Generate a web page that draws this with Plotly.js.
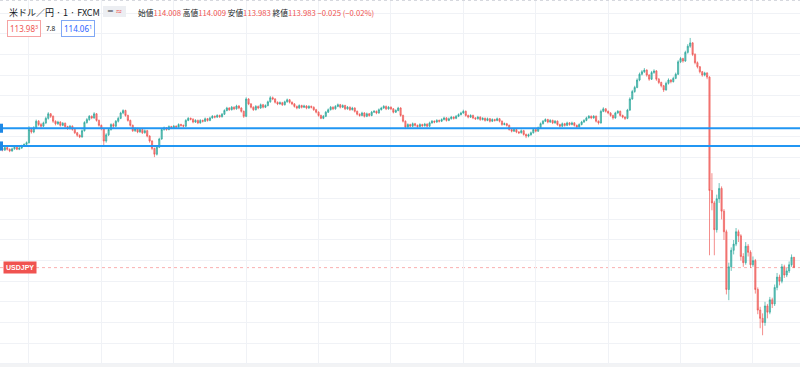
<!DOCTYPE html>
<html>
<head>
<meta charset="utf-8">
<script src="https://cdn.plot.ly/plotly-3.0.1.min.js"></script>
<style>html,body{margin:0;padding:0;background:#fff;}#chart{width:800px;height:367px;}</style>
</head>
<body>
<div id="chart"></div>
<script>
// 1-minute USD/JPY candles (FXCM)
const openP = [
114.270,114.272,114.268,114.274,114.270,114.266,114.271,114.275,114.270,114.273,
114.278,114.282,114.286,114.318,114.312,114.322,114.338,114.330,114.326,114.334,
114.345,114.356,114.350,114.338,114.332,114.336,114.328,114.333,114.325,114.320,
114.326,114.318,114.310,114.304,114.300,114.315,114.335,114.342,114.350,114.346,
114.356,114.340,114.328,114.320,114.290,114.305,114.318,114.330,114.326,114.338,
114.345,114.358,114.364,114.352,114.340,114.328,114.315,114.320,114.312,114.318,
114.310,114.315,114.302,114.290,114.272,114.258,114.275,114.295,114.318,114.322,
114.318,114.325,114.322,114.326,114.324,114.330,114.328,114.326,114.340,114.345,
114.343,114.336,114.340,114.334,114.340,114.338,114.344,114.340,114.346,114.350,
114.348,114.352,114.349,114.355,114.364,114.370,114.366,114.372,114.368,114.375,
114.370,114.362,114.350,114.392,114.380,114.372,114.366,114.374,114.370,114.378,
114.372,114.376,114.385,114.395,114.392,114.384,114.380,114.383,114.378,114.385,
114.390,114.384,114.380,114.374,114.370,114.376,114.372,114.375,114.370,114.374,
114.372,114.366,114.360,114.352,114.345,114.350,114.360,114.366,114.372,114.368,
114.374,114.378,114.372,114.376,114.368,114.372,114.366,114.370,114.362,114.355,
114.352,114.358,114.350,114.356,114.352,114.360,114.362,114.358,114.366,114.370,
114.374,114.368,114.372,114.368,114.360,114.364,114.370,114.352,114.338,114.324,
114.330,114.326,114.332,114.328,114.325,114.330,114.327,114.331,114.326,114.334,
114.338,114.336,114.340,114.338,114.342,114.346,114.340,114.344,114.348,114.345,
114.350,114.354,114.358,114.362,114.352,114.348,114.352,114.346,114.344,114.348,
114.342,114.345,114.340,114.344,114.338,114.342,114.340,114.344,114.338,114.330,
114.332,114.328,114.318,114.314,114.318,114.312,114.310,114.315,114.306,114.302,
114.305,114.310,114.318,114.314,114.322,114.332,114.338,114.342,114.336,114.340,
114.334,114.338,114.330,114.326,114.332,114.328,114.334,114.330,114.334,114.328,
114.324,114.330,114.336,114.340,114.346,114.350,114.346,114.350,114.338,114.334,
114.362,114.368,114.362,114.358,114.352,114.346,114.358,114.362,114.352,114.348,
114.345,114.365,114.392,114.410,114.420,114.438,114.452,114.458,114.462,114.450,
114.440,114.456,114.460,114.440,114.432,114.424,114.414,114.430,114.438,114.434,
114.442,114.452,114.482,114.490,114.484,114.505,114.520,114.528,114.500,114.480,
114.470,114.458,114.450,114.455,114.445,114.170,114.140,114.075,114.150,114.175,
114.120,114.070,113.930,113.985,114.025,114.040,114.070,114.060,114.010,113.995,
114.035,114.020,113.990,114.000,113.930,113.880,113.860,113.850,113.890,113.875,
113.905,113.895,113.935,113.960,113.950,113.985,113.965,113.975,113.990,114.008];

const highP = [
114.275,114.274,114.277,114.276,114.272,114.274,114.278,114.277,114.276,114.281,
114.284,114.289,114.326,114.322,114.326,114.342,114.341,114.334,114.337,114.349,
114.360,114.358,114.352,114.340,114.339,114.338,114.336,114.335,114.327,114.329,
114.328,114.320,114.312,114.306,114.318,114.338,114.346,114.353,114.352,114.360,
114.358,114.342,114.330,114.322,114.309,114.321,114.333,114.334,114.341,114.349,
114.361,114.367,114.366,114.354,114.342,114.330,114.323,114.322,114.321,114.320,
114.318,114.317,114.304,114.292,114.274,114.278,114.298,114.321,114.325,114.324,
114.328,114.327,114.329,114.328,114.333,114.332,114.330,114.343,114.348,114.347,
114.345,114.343,114.342,114.343,114.342,114.347,114.346,114.349,114.353,114.352,
114.355,114.354,114.358,114.367,114.373,114.372,114.375,114.374,114.378,114.377,
114.372,114.364,114.396,114.394,114.382,114.374,114.377,114.376,114.381,114.380,
114.379,114.388,114.399,114.398,114.394,114.386,114.386,114.385,114.388,114.393,
114.392,114.386,114.382,114.376,114.379,114.378,114.378,114.377,114.377,114.376,
114.374,114.368,114.362,114.354,114.353,114.363,114.369,114.375,114.374,114.377,
114.381,114.380,114.379,114.378,114.375,114.374,114.373,114.372,114.364,114.357,
114.361,114.360,114.359,114.358,114.363,114.365,114.364,114.369,114.373,114.377,
114.376,114.375,114.374,114.370,114.367,114.373,114.372,114.354,114.340,114.333,
114.332,114.335,114.334,114.330,114.333,114.332,114.334,114.333,114.337,114.341,
114.340,114.343,114.342,114.345,114.349,114.348,114.347,114.351,114.350,114.353,
114.357,114.361,114.366,114.364,114.354,114.355,114.354,114.348,114.351,114.350,
114.348,114.347,114.347,114.346,114.345,114.344,114.347,114.346,114.340,114.335,
114.334,114.330,114.320,114.321,114.320,114.314,114.318,114.317,114.308,114.308,
114.313,114.321,114.320,114.325,114.335,114.341,114.345,114.344,114.343,114.342,
114.341,114.340,114.332,114.335,114.334,114.337,114.336,114.337,114.336,114.330,
114.333,114.339,114.343,114.349,114.353,114.352,114.353,114.352,114.340,114.366,
114.372,114.370,114.364,114.360,114.354,114.361,114.365,114.364,114.354,114.350,
114.368,114.396,114.414,114.424,114.442,114.456,114.462,114.467,114.464,114.452,
114.460,114.464,114.462,114.443,114.434,114.426,114.434,114.442,114.440,114.446,
114.456,114.486,114.494,114.492,114.509,114.525,114.540,114.530,114.503,114.483,
114.472,114.460,114.458,114.457,114.447,114.212,114.145,114.160,114.188,114.180,
114.125,114.075,113.995,114.032,114.050,114.079,114.075,114.064,114.018,114.045,
114.040,114.025,114.010,114.004,113.935,113.888,113.872,113.900,113.895,113.912,
113.910,113.942,113.970,113.966,113.992,113.990,113.982,113.998,114.015,114.009];

const lowP = [
114.266,114.265,114.266,114.267,114.263,114.264,114.269,114.268,114.268,114.271,
114.276,114.280,114.284,114.308,114.309,114.320,114.326,114.322,114.324,114.331,
114.342,114.346,114.334,114.328,114.329,114.325,114.326,114.322,114.317,114.318,
114.315,114.307,114.300,114.297,114.298,114.313,114.332,114.339,114.343,114.344,
114.337,114.325,114.316,114.280,114.286,114.302,114.315,114.322,114.324,114.335,
114.343,114.355,114.349,114.337,114.325,114.312,114.312,114.309,114.310,114.307,
114.308,114.299,114.286,114.268,114.251,114.255,114.273,114.293,114.315,114.315,
114.316,114.319,114.320,114.321,114.322,114.325,114.323,114.324,114.338,114.340,
114.333,114.334,114.331,114.332,114.335,114.336,114.337,114.338,114.344,114.345,
114.346,114.346,114.347,114.353,114.362,114.363,114.364,114.365,114.366,114.367,
114.359,114.346,114.348,114.377,114.369,114.363,114.364,114.367,114.368,114.369,
114.370,114.374,114.383,114.389,114.381,114.377,114.378,114.375,114.376,114.383,
114.381,114.377,114.371,114.367,114.368,114.369,114.370,114.367,114.368,114.369,
114.363,114.357,114.349,114.343,114.343,114.348,114.358,114.364,114.365,114.366,
114.372,114.369,114.370,114.365,114.366,114.363,114.364,114.359,114.352,114.349,
114.350,114.347,114.348,114.349,114.350,114.358,114.355,114.356,114.364,114.368,
114.365,114.366,114.365,114.357,114.358,114.362,114.349,114.335,114.319,114.322,
114.323,114.324,114.325,114.322,114.323,114.324,114.325,114.323,114.324,114.332,
114.333,114.334,114.335,114.336,114.340,114.337,114.338,114.342,114.342,114.343,
114.348,114.352,114.356,114.349,114.345,114.346,114.343,114.341,114.342,114.339,
114.340,114.337,114.338,114.335,114.336,114.337,114.338,114.335,114.327,114.328,
114.325,114.315,114.311,114.312,114.309,114.307,114.308,114.303,114.297,114.299,
114.303,114.308,114.311,114.312,114.320,114.330,114.336,114.333,114.334,114.331,
114.332,114.327,114.323,114.324,114.325,114.326,114.327,114.328,114.325,114.321,
114.322,114.328,114.334,114.338,114.344,114.343,114.344,114.335,114.330,114.332,
114.360,114.359,114.355,114.349,114.342,114.344,114.356,114.349,114.345,114.341,
114.343,114.363,114.390,114.407,114.418,114.435,114.449,114.455,114.446,114.436,
114.438,114.453,114.436,114.428,114.420,114.409,114.412,114.427,114.430,114.432,
114.440,114.450,114.479,114.480,114.482,114.502,114.516,114.496,114.476,114.466,
114.454,114.446,114.447,114.440,114.013,114.122,114.013,114.068,114.140,114.100,
114.050,113.918,113.904,113.975,114.015,114.035,114.045,114.000,113.985,113.990,
114.010,113.982,113.985,113.920,113.870,113.836,113.819,113.842,113.860,113.870,
113.885,113.890,113.928,113.940,113.945,113.958,113.960,113.970,113.985,113.983];

const closeP = [
114.272,114.268,114.274,114.270,114.266,114.271,114.275,114.270,114.273,114.278,
114.282,114.286,114.318,114.312,114.322,114.338,114.330,114.326,114.334,114.345,
114.356,114.350,114.338,114.332,114.336,114.328,114.333,114.325,114.320,114.326,
114.318,114.310,114.304,114.300,114.315,114.335,114.342,114.350,114.346,114.356,
114.340,114.328,114.320,114.290,114.305,114.318,114.330,114.326,114.338,114.345,
114.358,114.364,114.352,114.340,114.328,114.315,114.320,114.312,114.318,114.310,
114.315,114.302,114.290,114.272,114.258,114.275,114.295,114.318,114.322,114.318,
114.325,114.322,114.326,114.324,114.330,114.328,114.326,114.340,114.345,114.343,
114.336,114.340,114.334,114.340,114.338,114.344,114.340,114.346,114.350,114.348,
114.352,114.349,114.355,114.364,114.370,114.366,114.372,114.368,114.375,114.370,
114.362,114.350,114.392,114.380,114.372,114.366,114.374,114.370,114.378,114.372,
114.376,114.385,114.395,114.392,114.384,114.380,114.383,114.378,114.385,114.390,
114.384,114.380,114.374,114.370,114.376,114.372,114.375,114.370,114.374,114.372,
114.366,114.360,114.352,114.345,114.350,114.360,114.366,114.372,114.368,114.374,
114.378,114.372,114.376,114.368,114.372,114.366,114.370,114.362,114.355,114.352,
114.358,114.350,114.356,114.352,114.360,114.362,114.358,114.366,114.370,114.374,
114.368,114.372,114.368,114.360,114.364,114.370,114.352,114.338,114.324,114.330,
114.326,114.332,114.328,114.325,114.330,114.327,114.331,114.326,114.334,114.338,
114.336,114.340,114.338,114.342,114.346,114.340,114.344,114.348,114.345,114.350,
114.354,114.358,114.362,114.352,114.348,114.352,114.346,114.344,114.348,114.342,
114.345,114.340,114.344,114.338,114.342,114.340,114.344,114.338,114.330,114.332,
114.328,114.318,114.314,114.318,114.312,114.310,114.315,114.306,114.302,114.305,
114.310,114.318,114.314,114.322,114.332,114.338,114.342,114.336,114.340,114.334,
114.338,114.330,114.326,114.332,114.328,114.334,114.330,114.334,114.328,114.324,
114.330,114.336,114.340,114.346,114.350,114.346,114.350,114.338,114.334,114.362,
114.368,114.362,114.358,114.352,114.346,114.358,114.362,114.352,114.348,114.345,
114.365,114.392,114.410,114.420,114.438,114.452,114.458,114.462,114.450,114.440,
114.456,114.460,114.440,114.432,114.424,114.414,114.430,114.438,114.434,114.442,
114.452,114.482,114.490,114.484,114.505,114.520,114.528,114.500,114.480,114.470,
114.458,114.450,114.455,114.445,114.170,114.140,114.075,114.150,114.175,114.120,
114.070,113.930,113.985,114.025,114.040,114.070,114.060,114.010,113.995,114.035,
114.020,113.990,114.000,113.930,113.880,113.860,113.850,113.890,113.875,113.905,
113.895,113.935,113.960,113.950,113.985,113.965,113.975,113.990,114.008,113.983];

// drawn horizontal lines and current price
const hLines = [114.321, 114.278];
const lastPrice = 113.983;
const symbolLabel = 'USDJPY';
const titleText = '米ドル／円 · 1 · FXCM';
const ohlcLabels = ['始値', '高値', '安値', '終値'];
const ohlcValues = ['114.008', '114.009', '113.983', '113.983'];
const changeText = '−0.025 (−0.02%)';
const bidText = ['113.98', '3'];
const askText = ['114.06', '1'];
const spreadText = '7.8';

const W = 800, H = 367;
const px = v => v / W;          // x pixel -> paper
const py = v => 1 - v / H;      // y pixel -> paper

const xIdx = openP.map((_, i) => i);
const UP = 'rgba(38,166,154,0.66)';
const DN = 'rgba(239,83,80,0.66)';

const trace = {
  type: 'candlestick',
  x: xIdx, open: openP, high: highP, low: lowP, close: closeP,
  increasing: {line: {color: UP, width: 1}, fillcolor: UP},
  decreasing: {line: {color: DN, width: 1}, fillcolor: DN},
  whiskerwidth: 0,
  hoverinfo: 'skip',
  showlegend: false
};

const shapes = [];
hLines.forEach(v => {
  shapes.push({type: 'line', xref: 'paper', yref: 'y', x0: 0, x1: 1, y0: v, y1: v,
    line: {color: '#2196f3', width: 2}});
  shapes.push({type: 'rect', xref: 'paper', yref: 'y', x0: 0, x1: px(3), y0: v - 0.011, y1: v + 0.011,
    fillcolor: '#1e88e5', line: {width: 0}});
});
shapes.push({type: 'line', xref: 'paper', yref: 'y', x0: 0, x1: 1, y0: lastPrice, y1: lastPrice,
  line: {color: 'rgba(242,80,80,0.45)', width: 1, dash: 'dot'}, layer: 'below'});
// pill for header icons
shapes.push({type: 'rect', xref: 'paper', yref: 'paper', x0: px(103), x1: px(126), y0: py(17), y1: py(6),
  fillcolor: '#eceef2', line: {width: 0}, layer: 'above'});
// top dotted border & bottom band
shapes.push({type: 'line', xref: 'paper', yref: 'paper', x0: 0, x1: 1, y0: py(0.5), y1: py(0.5),
  line: {color: '#d6d8de', width: 1, dash: 'dot'}});
shapes.push({type: 'rect', xref: 'paper', yref: 'paper', x0: 0, x1: 1, y0: 0, y1: py(364),
  fillcolor: '#f2f3f5', line: {width: 0}});

const red = '#ef5350';
let ohlcStr = '';
ohlcLabels.forEach((l, i) => {
  ohlcStr += l + '<span style="color:' + red + '">' + ohlcValues[i] + '</span> ';
});
ohlcStr += '<span style="color:' + red + '">' + changeText + '</span>';

const annotations = [
  {xref: 'paper', yref: 'paper', x: px(7), y: py(12.5), xanchor: 'left', yanchor: 'middle', showarrow: false,
   text: titleText, font: {family: 'Noto Sans CJK JP, sans-serif', size: 9, color: '#131722'}},
  {xref: 'paper', yref: 'paper', x: px(114.5), y: py(11.5), xanchor: 'center', yanchor: 'middle', showarrow: false,
   text: '<span style="color:#6a6d78">═</span> <span style="color:#ef5350">≈</span>',
   font: {family: 'DejaVu Sans, sans-serif', size: 8, color: '#6a6d78'}},
  {xref: 'paper', yref: 'paper', x: px(136), y: py(12.5), xanchor: 'left', yanchor: 'middle', showarrow: false,
   text: ohlcStr, font: {family: 'Noto Sans CJK JP, sans-serif', size: 7.7, color: '#131722'}},
  {xref: 'paper', yref: 'paper', x: px(23.5), y: py(28.5), xanchor: 'center', yanchor: 'middle', showarrow: false,
   text: bidText[0] + '<sup>' + bidText[1] + '</sup>', bgcolor: '#ffffff', bordercolor: '#f5a3a3', borderwidth: 1, borderpad: 2,
   font: {family: 'Noto Sans, sans-serif', size: 8, color: red}},
  {xref: 'paper', yref: 'paper', x: px(50), y: py(28.5), xanchor: 'center', yanchor: 'middle', showarrow: false,
   text: spreadText, font: {family: 'Noto Sans, sans-serif', size: 6.5, color: '#131722'}},
  {xref: 'paper', yref: 'paper', x: px(78), y: py(28.5), xanchor: 'center', yanchor: 'middle', showarrow: false,
   text: askText[0] + '<sup>' + askText[1] + '</sup>', bgcolor: '#ffffff', bordercolor: '#7fa7f5', borderwidth: 1, borderpad: 2,
   font: {family: 'Noto Sans, sans-serif', size: 8, color: '#2962ff'}},
  {xref: 'paper', yref: 'y', x: px(3), y: lastPrice, xanchor: 'left', yanchor: 'middle', showarrow: false,
   text: '<b>' + symbolLabel + '</b>', bgcolor: '#f05350', borderpad: 2,
   font: {family: 'Liberation Sans, sans-serif', size: 7, color: '#ffffff'}}
];

const layout = {
  width: W, height: H,
  margin: {l: 0, r: 0, t: 0, b: 0},
  paper_bgcolor: '#ffffff', plot_bgcolor: '#ffffff',
  showlegend: false,
  xaxis: {range: [0, 331.5], tickmode: 'linear', tick0: 12, dtick: 30, showgrid: true,
    gridcolor: '#f0f2f6', gridwidth: 1, showticklabels: false, zeroline: false, showline: false,
    rangeslider: {visible: false}, fixedrange: true},
  yaxis: {range: [113.742, 114.632], tickmode: 'linear', tick0: 114.0, dtick: 0.05, showgrid: true,
    gridcolor: '#f0f2f6', gridwidth: 1, showticklabels: false, zeroline: false, showline: false, fixedrange: true},
  shapes: shapes,
  annotations: annotations
};

Plotly.newPlot('chart', [trace], layout, {displayModeBar: false, staticPlot: true});
</script>
</body>
</html>
